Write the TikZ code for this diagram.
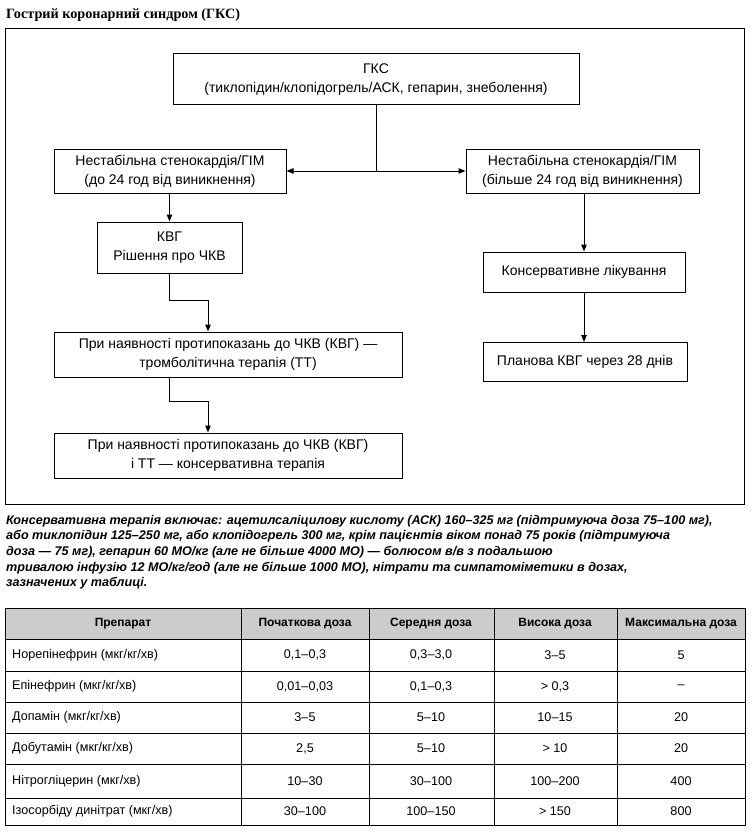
\documentclass[tikz,border=0pt]{standalone}
\usepackage{fontspec}
\setmainfont{Liberation Sans}
\newfontfamily\titlefont{Liberation Serif}
\usetikzlibrary{arrows.meta}
\tikzset{
  fbox/.style={draw, line width=1pt, align=center, inner sep=0pt, font=\fontsize{14}{19}\selectfont},
  arr/.style={line width=1pt, -{Triangle[length=7pt,width=5.5pt]}},
  conn/.style={line width=1pt},
  tl/.style={anchor=west, inner sep=0pt, font=\fontsize{12.6}{14}\selectfont},
  tc/.style={anchor=center, inner sep=0pt, font=\fontsize{12.6}{14}\selectfont},
  th/.style={anchor=center, inner sep=0pt, font=\fontsize{12}{14}\selectfont\bfseries},
  para/.style={anchor=base west, inner sep=0pt, font=\fontsize{12.6}{14}\selectfont\bfseries\itshape},
  grid/.style={line width=1pt}
}
\newcommand{\tabrow}[7]{%
  \node[tl] (#1a) at (12,#2) {#3};
  \node[tc] (#1b) at (305,#2) {#4};
  \node[tc] (#1c) at (431,#2) {#5};
  \node[tc] (#1d) at (555,#2) {#6};
  \node[tc] (#1e) at (681,#2) {#7};
}
\begin{document}
\begin{tikzpicture}[x=1pt,y=-1pt]
\useasboundingbox (0,0) rectangle (753,832);
% title
\node[anchor=base west, inner sep=0pt, font=\titlefont\fontsize{14.2}{16}\selectfont\bfseries] (title) at (6,19) {Гострий коронарний синдром (ГКС)};
% frame
\draw[line width=1pt] (5,29) rectangle (744,504);
% boxes
\node[fbox, minimum width=406pt, minimum height=51pt] (gks) at (376,79.5) {ГКС\\(тиклопідин/клопідогрель/АСК, гепарин, знеболення)};
\node[fbox, minimum width=232pt, minimum height=44pt] (b1) at (170,171) {Нестабільна стенокардія/ГІМ\\(до 24 год від виникнення)};
\node[fbox, minimum width=233pt, minimum height=44pt] (b2) at (582.5,171) {Нестабільна стенокардія/ГІМ\\(більше 24 год від виникнення)};
\node[fbox, minimum width=145pt, minimum height=51pt] (kvg) at (169.5,247.5) {КВГ\\Рішення про ЧКВ};
\node[fbox, minimum width=202pt, minimum height=40pt] (cons) at (584,272) {Консервативне лікування};
\node[fbox, minimum width=204pt, minimum height=39pt] (plan) at (585,362) {Планова КВГ через 28 днів};
\node[fbox, minimum width=348pt, minimum height=45pt] (b3) at (228,354.5) {При наявності протипоказань до ЧКВ (КВГ) —\\тромболітична терапія (ТТ)};
\node[fbox, minimum width=348pt, minimum height=45pt] (b4) at (228,455.5) {При наявності протипоказань до ЧКВ (КВГ)\\і ТТ — консервативна терапія};
% connectors
\coordinate (split) at (376,171);
\draw[conn] (gks.south) -- (split);
\draw[arr] (split) -- (b1.east);
\draw[arr] (split) -- (b2.west);
\draw[arr] (b1.south -| kvg.north) -- (kvg.north);
\coordinate (j1) at (208,300);
\draw[arr] (kvg.south) |- (j1) -- (j1 |- b3.north);
\coordinate (j2) at (208,401);
\draw[arr] (b3.south -| kvg.south) |- (j2) -- (j2 |- b4.north);
\draw[arr] (b2.south -| cons.north) -- (cons.north);
\draw[arr] (cons.south) -- (cons.south |- plan.north);
% paragraph
\node[para] (p1) at (6,524) {Консервативна терапія включає: ацетилсаліцилову кислоту (АСК) 160–325 мг (підтримуюча доза 75–100 мг),};
\node[para] (p2) at (6,539.5) {або тиклопідин 125–250 мг, або клопідогрель 300 мг, крім пацієнтів віком понад 75 років (підтримуюча};
\node[para] (p3) at (6,555) {доза — 75 мг), гепарин 60 МО/кг (але не більше 4000 МО) — болюсом в/в з подальшою};
\node[para] (p4) at (6,571) {тривалою інфузію 12 МО/кг/год (але не більше 1000 МО), нітрати та симпатоміметики в дозах,};
\node[para] (p5) at (6,586.5) {зазначених у таблиці.};
% table
\fill[black!20] (5,608) rectangle (745,639);
\draw[grid] (5,608) rectangle (745,825);
\foreach \yy in {639,671,702,733,764,798} \draw[grid] (5,\yy) -- (745,\yy);
\foreach \xx in {241,369,494,617} \draw[grid] (\xx,608) -- (\xx,825);
\node[th] (h1) at (123,623.5) {Препарат};
\node[th] (h2) at (305,623.5) {Початкова доза};
\node[th] (h3) at (431,623.5) {Середня доза};
\node[th] (h4) at (555,623.5) {Висока доза};
\node[th] (h5) at (681,623.5) {Максимальна доза};
\tabrow{r1}{655}{Норепінефрин (мкг/кг/хв)}{0,1–0,3}{0,3–3,0}{3–5}{5}
\tabrow{r2}{686.5}{Епінефрин (мкг/кг/хв)}{0,01–0,03}{0,1–0,3}{> 0,3}{–}
\tabrow{r3}{717.5}{Допамін (мкг/кг/хв)}{3–5}{5–10}{10–15}{20}
\tabrow{r4}{748.5}{Добутамін (мкг/кг/хв)}{2,5}{5–10}{> 10}{20}
\tabrow{r5}{781}{Нітрогліцерин (мкг/хв)}{10–30}{30–100}{100–200}{400}
\tabrow{r6}{811.5}{Ізосорбіду динітрат (мкг/хв)}{30–100}{100–150}{> 150}{800}
\end{tikzpicture}
\end{document}
